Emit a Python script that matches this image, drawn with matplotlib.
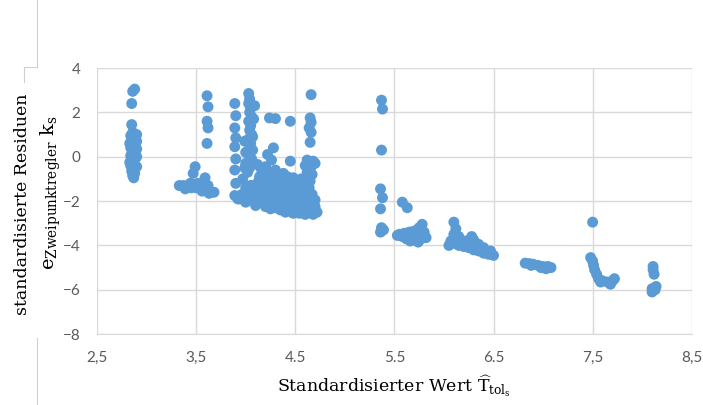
import numpy as np
import matplotlib.pyplot as plt
from matplotlib.lines import Line2D

plt.rcParams.update({
    'font.family': 'DejaVu Serif',
    'mathtext.fontset': 'dejavuserif',
})

# Punktwolken, Werte (x = standardisierter Wert, y = Residuum)
col_285_x = [2.88, 2.86, 2.85, 2.85, 2.86, 2.84, 2.87, 2.85, 2.88, 2.84, 2.90, 2.86, 2.84, 2.89,
             2.85, 2.87, 2.84, 2.90, 2.86, 2.85, 2.88, 2.86, 2.87, 2.90, 2.90, 2.90, 2.83, 2.83]
col_285_y = [3.05, 2.95, 2.40, 1.45, 1.10, 0.95, 0.80, 0.65, 0.50, 0.40, 0.35, 0.20, 0.05, -0.05,
             -0.15, -0.30, -0.40, -0.45, -0.55, -0.65, -0.75, -0.85, -0.95, 0.00, 1.00, 0.70, -0.25, 0.60]

grp_35_x = [3.49, 3.47, 3.59, 3.33, 3.37, 3.41, 3.45, 3.50, 3.39, 3.48, 3.55, 3.62, 3.61, 3.65,
            3.63, 3.56, 3.44, 3.52, 3.58, 3.68]
grp_35_y = [-0.45, -0.75, -0.95, -1.30, -1.30, -1.35, -1.40, -1.40, -1.45, -1.25, -1.45, -1.30,
            -1.55, -1.60, -1.65, -1.55, -1.20, -1.20, -1.35, -1.60]

col_36_x = [3.61, 3.62, 3.61, 3.62, 3.61]
col_36_y = [2.75, 2.25, 1.60, 1.30, 0.60]

col_39_x = [3.89, 3.90, 3.89, 3.90, 3.89, 3.90, 3.89, 3.90, 3.89, 3.92, 3.95, 3.97]
col_39_y = [2.40, 1.85, 1.30, 0.85, 0.45, -0.10, -0.60, -1.20, -1.75, -1.90, -1.90, -1.00]

col_40_x = [4.03, 4.04, 4.03, 4.05, 4.04, 4.06, 4.03, 4.05, 4.04, 4.06, 4.03, 4.05, 4.04, 4.07,
            4.03, 4.06, 4.00, 4.04, 4.02, 4.05, 4.00, 4.06, 4.02, 4.05, 4.00, 3.99, 4.00, 3.99,
            4.08, 4.07, 4.09, 4.08]
col_40_y = [2.85, 2.60, 2.40, 2.20, 2.00, 1.80, 1.60, 1.40, 1.20, 1.00, 0.80, 0.60, 0.40, 0.30,
            0.10, -0.10, -0.30, -0.50, -0.70, -1.30, -1.40, -1.50, -1.70, -1.90, -2.00, 0.70,
            0.20, -0.50, 1.70, 0.90, 2.30, -0.30]

# einzelne Punkte oberhalb der dichten Wolke bei 4.0 - 4.5
pts_42_x = [4.24, 4.30, 4.45, 4.28, 4.45, 4.12, 4.22]
pts_42_y = [1.75, 1.72, 1.60, 0.40, -0.20, -0.35, 0.10]

# dichte Wolke 4.0 - 4.55
blob_x = [4.15, 4.20, 4.26, 4.17, 4.24, 4.30, 4.38,
          4.14, 4.20, 4.27, 4.34, 4.42, 4.48,
          4.13, 4.19, 4.25, 4.31, 4.37, 4.43, 4.50,
          4.06, 4.12, 4.18, 4.24, 4.30, 4.36, 4.42, 4.48, 4.53,
          4.04, 4.10, 4.16, 4.22, 4.28, 4.34, 4.40, 4.46, 4.52,
          3.96, 4.02, 4.08, 4.14, 4.20, 4.26, 4.32, 4.38, 4.44, 4.50, 4.54,
          3.93, 3.99, 4.05, 4.11, 4.17, 4.23, 4.29, 4.35, 4.41, 4.47, 4.53,
          4.00, 4.10, 4.20, 4.30, 4.40, 4.50,
          4.10, 4.20, 4.30, 4.40, 4.50,
          4.25, 4.35, 4.45, 4.52,
          4.40, 4.48, 4.54]
blob_y = [-0.50, -0.45, -0.15, -0.70, -0.70, -0.60, -0.75,
          -0.90, -0.90, -0.90, -0.85, -0.90, -0.95,
          -1.10, -1.10, -1.10, -1.10, -1.10, -1.10, -1.10,
          -1.30, -1.30, -1.30, -1.30, -1.30, -1.30, -1.30, -1.30, -1.30,
          -1.50, -1.50, -1.50, -1.50, -1.50, -1.50, -1.50, -1.50, -1.50,
          -1.70, -1.70, -1.70, -1.70, -1.70, -1.70, -1.70, -1.70, -1.70, -1.70, -1.70,
          -1.90, -1.90, -1.90, -1.90, -1.90, -1.90, -1.90, -1.90, -1.90, -1.90, -1.90,
          -2.05, -2.10, -2.15, -2.10, -2.10, -2.10,
          -2.20, -2.25, -2.30, -2.30, -2.30,
          -2.35, -2.40, -2.45, -2.45,
          -2.50, -2.55, -2.55]

col_465_x = [4.66, 4.65, 4.66, 4.64, 4.66, 4.65,
             4.62, 4.68, 4.60, 4.66, 4.62, 4.67, 4.60, 4.65, 4.58, 4.64, 4.60, 4.67,
             4.56, 4.62, 4.70, 4.58, 4.64, 4.70, 4.57, 4.63, 4.72, 4.60, 4.68, 4.70, 4.56]
col_465_y = [2.80, 1.75, 1.55, 1.30, 1.10, 0.65,
             -0.15, -0.20, -0.40, -0.45, -0.70, -0.80, -1.00, -1.10, -1.30, -1.40, -1.60, -1.70,
             -1.80, -1.90, -1.95, -2.10, -2.20, -2.25, -2.35, -2.45, -2.50, -2.60, -2.60,
             -0.30, -1.00]

col_54_x = [5.37, 5.38, 5.37, 5.36, 5.38, 5.36, 5.37, 5.39, 5.36]
col_54_y = [2.55, 2.15, 0.30, -1.45, -1.85, -2.35, -3.20, -3.30, -3.40]

grp_57_x = [5.58, 5.63, 5.55, 5.60, 5.65, 5.70, 5.75, 5.78, 5.58, 5.63, 5.68, 5.73, 5.80,
            5.62, 5.70, 5.77, 5.82, 5.53, 5.66, 5.74]
grp_57_y = [-2.05, -2.30, -3.50, -3.45, -3.40, -3.35, -3.20, -3.05, -3.60, -3.55, -3.55, -3.50,
            -3.40, -3.70, -3.70, -3.70, -3.65, -3.55, -3.80, -3.85]

grp_62_x = [6.10, 6.12, 6.10, 6.07, 6.10, 6.15, 6.20, 6.25, 6.30, 6.35, 6.40, 6.45, 6.50,
            6.12, 6.18, 6.22, 6.28, 6.30, 6.35, 6.40, 6.47, 6.25, 6.05, 6.15, 6.33]
grp_62_y = [-2.95, -3.25, -3.50, -3.80, -3.90, -4.00, -4.05, -4.10, -4.20, -4.25, -4.35, -4.40,
            -4.45, -3.70, -3.85, -3.80, -3.60, -3.75, -3.95, -4.10, -4.25, -3.95, -4.00, -3.60,
            -4.05]

grp_69_x = [6.82, 6.86, 6.90, 6.95, 7.00, 7.05, 7.08, 6.88, 6.98, 7.03]
grp_69_y = [-4.80, -4.82, -4.85, -4.90, -4.95, -4.95, -5.00, -4.90, -5.00, -5.05]

grp_75_x = [7.50, 7.48, 7.50, 7.51, 7.52, 7.54, 7.56, 7.60, 7.65, 7.70, 7.72, 7.68, 7.58]
grp_75_y = [-2.95, -4.55, -4.70, -4.90, -5.10, -5.30, -5.50, -5.60, -5.65, -5.60, -5.50,
            -5.75, -5.65]

grp_81_x = [8.11, 8.11, 8.12, 8.10, 8.13, 8.10, 8.14]
grp_81_y = [-4.95, -5.10, -5.30, -5.95, -6.00, -6.10, -5.85]

x_all = (col_285_x + grp_35_x + col_36_x + col_39_x + col_40_x + pts_42_x + blob_x
         + col_465_x + col_54_x + grp_57_x + grp_62_x + grp_69_x + grp_75_x + grp_81_x)
y_all = (col_285_y + grp_35_y + col_36_y + col_39_y + col_40_y + pts_42_y + blob_y
         + col_465_y + col_54_y + grp_57_y + grp_62_y + grp_69_y + grp_75_y + grp_81_y)

x_ticks = [2.5, 3.5, 4.5, 5.5, 6.5, 7.5, 8.5]
x_tick_labels = ['2,5', '3,5', '4.5', '5.5', '6.5', '7,5', '8,5']
y_ticks = [4, 2, 0, -2, -4, -6, -8]

fig = plt.figure(figsize=(7.03, 4.05), dpi=100)
ax = fig.add_axes([0.138, 0.175, 0.846, 0.657])

ax.scatter(x_all, y_all, s=62, color='#5B9BD5', edgecolors='none', zorder=3, clip_on=False)

ax.set_xlim(2.5, 8.5)
ax.set_ylim(-8, 4)
ax.set_xticks(x_ticks)
ax.set_xticklabels(x_tick_labels)
ax.set_yticks(y_ticks)
ax.grid(True, color='#D9D9D9', linewidth=1.0, zorder=0)
for s in ['top', 'right', 'left']:
    ax.spines[s].set_visible(False)
ax.spines['bottom'].set_color('#D9D9D9')
ax.tick_params(length=0, colors='#595959', labelsize=11, pad=12)
for lab in ax.get_xticklabels() + ax.get_yticklabels():
    lab.set_fontfamily('Lato')

# Achsentitel
fig.text(0.56, 0.045, r'Standardisierter Wert $\widehat{\mathrm{T}}_{\mathrm{tol}_{\mathrm{s}}}$',
         ha='center', va='center', fontsize=12.5)
fig.text(0.032, 0.495, 'standardisierte Residuen', rotation=90, ha='center', va='center',
         fontsize=12.5)
fig.text(0.072, 0.525, r'$\mathrm{e}_{\mathrm{Zweipunktregler}}\ \mathrm{k}_{\mathrm{s}}$',
         rotation=90, ha='center', va='center', fontsize=14)

# Randlinien vom Ausschnitt
W, H = 703, 405
for (xa, ya, xb, yb) in [(37, 0, 37, 67), (24, 67, 37, 67), (24, 67, 24, 82), (37, 338, 37, 405)]:
    fig.add_artist(Line2D([xa / W, xb / W], [1 - ya / H, 1 - yb / H], color='#D0D0D0', lw=0.8))

fig.savefig('out.png', dpi=100)
